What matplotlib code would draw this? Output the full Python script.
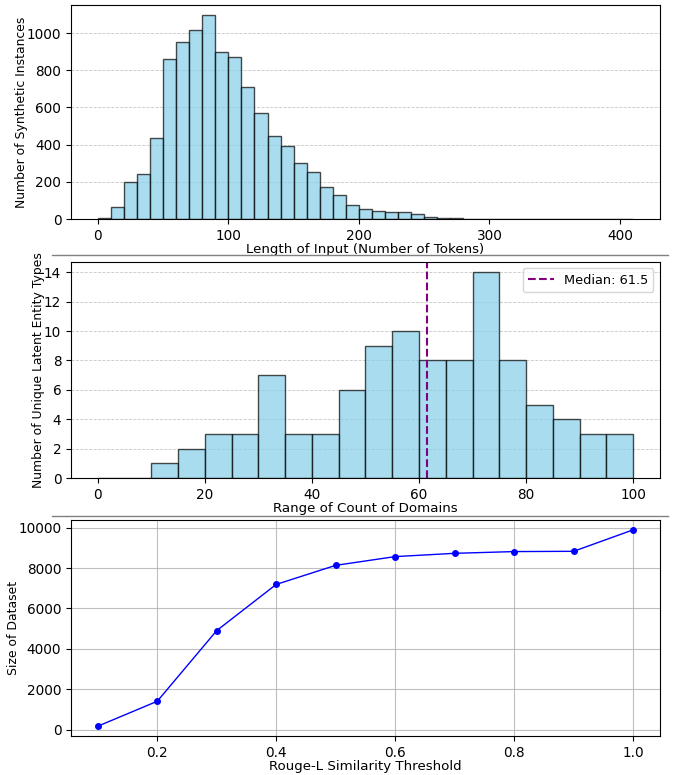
import matplotlib
matplotlib.use("Agg")
import matplotlib.pyplot as plt
import numpy as np
from matplotlib.lines import Line2D

# token length histogram (bin width 10)
token_edges = np.arange(0, 420, 10)
token_counts = [5, 64, 197, 243, 435, 860, 953, 1018, 1096, 896,
                870, 709, 572, 449, 394, 301, 251, 171, 130, 76,
                53, 44, 36, 39, 28, 11, 3, 4, 2, 2,
                1, 2, 0, 1, 1, 1, 0, 1, 1, 0,
                1]

# domain count histogram (bin width 5)
domain_edges = np.arange(0, 105, 5)
domain_counts = [0, 0, 1, 2, 3, 3, 7, 3, 3, 6, 9, 10, 8, 8, 14, 8, 5, 4, 3, 3]
median_domains = 61.5

# dataset size vs rouge-L threshold
thresholds = [0.1, 0.2, 0.3, 0.4, 0.5, 0.6, 0.7, 0.8, 0.9, 1.0]
dataset_size = [164, 1400, 4905, 7194, 8140, 8573, 8736, 8822, 8836, 9900]

plt.rcParams['font.size'] = 9.3
plt.rcParams['xtick.labelsize'] = 9.8
plt.rcParams['ytick.labelsize'] = 9.8
xfs = 9.6   # x-axis label size
yfs = 8.9   # y-axis label size

fig = plt.figure(figsize=(6.73, 7.75), dpi=100)
ax1 = fig.add_axes([0.1055, 0.7174, 0.875, 0.2761])
ax2 = fig.add_axes([0.1055, 0.3832, 0.875, 0.2787])
ax3 = fig.add_axes([0.1055, 0.0503, 0.875, 0.2787])

# top panel
centers = (token_edges[:-1] + token_edges[1:]) / 2
ax1.hist(centers, bins=token_edges, weights=token_counts, color='skyblue',
         edgecolor='black', alpha=0.7)
ax1.set_xlabel('Length of Input (Number of Tokens)', labelpad=0, fontsize=xfs)
ax1.set_ylabel('Number of Synthetic Instances', labelpad=-1, fontsize=yfs)
ax1.grid(axis='y', linestyle='--', alpha=0.7, linewidth=0.6)
ax1.set_axisbelow(True)

# middle panel
dcenters = (domain_edges[:-1] + domain_edges[1:]) / 2
ax2.hist(dcenters, bins=domain_edges, weights=domain_counts, color='skyblue',
         edgecolor='black', alpha=0.7)
ax2.axvline(median_domains, color='purple', linestyle='--', linewidth=1.5,
            label=f'Median: {median_domains}')
ax2.set_xlabel('Range of Count of Domains', labelpad=0, fontsize=xfs)
ax2.set_ylabel('Number of Unique Latent Entity Types', labelpad=-1, fontsize=yfs)
ax2.set_yticks(range(0, 15, 2))
ax2.grid(axis='y', linestyle='--', alpha=0.7, linewidth=0.6)
ax2.set_axisbelow(True)
ax2.legend(loc='upper right')

# bottom panel
ax3.plot(thresholds, dataset_size, marker='o', color='blue', markersize=4, linewidth=1)
ax3.set_xlabel('Rouge-L Similarity Threshold', labelpad=0, fontsize=xfs)
ax3.set_ylabel('Size of Dataset', labelpad=-1, fontsize=yfs)
ax3.grid(True, alpha=0.8)

# separators between panels
for yy in [1 - 255 / 775, 1 - 516 / 775]:
    fig.add_artist(Line2D([52 / 673, 668 / 673], [yy, yy], color='gray', linewidth=1))

fig.savefig('out.png', dpi=100)
